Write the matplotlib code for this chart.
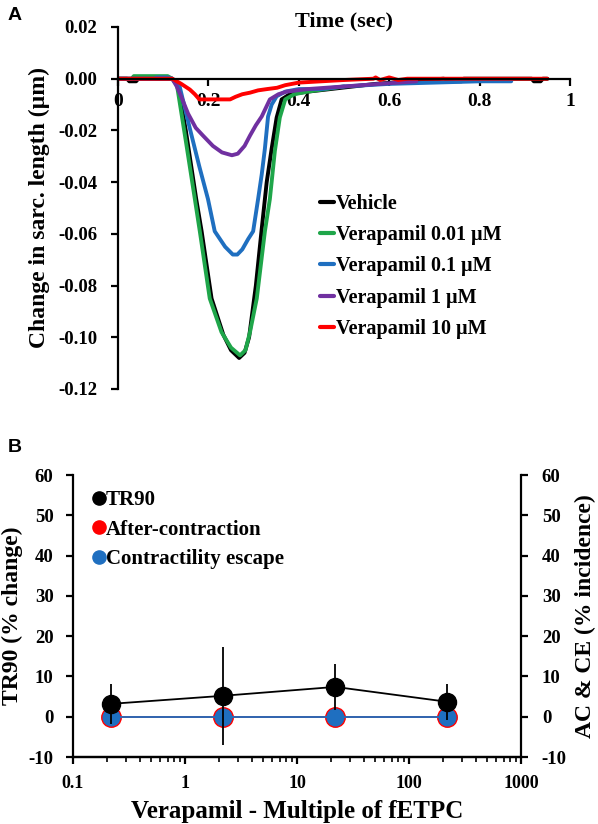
import matplotlib
matplotlib.use("Agg")
import matplotlib.pyplot as plt
from matplotlib.lines import Line2D
from matplotlib.ticker import LogLocator, NullFormatter

SERIF = ["Liberation Serif", "DejaVu Serif"]
plt.rcParams["font.family"] = SERIF
plt.rcParams["font.weight"] = "bold"

# ---------------- Panel A data ----------------
veh_t = [0.0, 0.02, 0.025, 0.04, 0.045, 0.10, 0.12, 0.133, 0.15, 0.173, 0.185, 0.207, 0.233, 0.25, 0.268,
         0.28, 0.29, 0.305, 0.318, 0.329, 0.340, 0.351, 0.362, 0.38, 0.42, 0.47, 0.52, 0.57, 0.65, 0.72,
         0.735, 0.74, 0.76, 0.765, 0.80, 0.915, 0.92, 0.935, 0.94, 0.95]
veh_y = [0, 0, -0.001, -0.001, 0, 0, 0, -0.003, -0.020, -0.0465, -0.059, -0.085, -0.099, -0.105, -0.108,
         -0.106, -0.100, -0.080, -0.058, -0.040, -0.027, -0.015, -0.008, -0.006, -0.005, -0.004, -0.003,
         -0.002, -0.001, 0, -0.0005, -0.001, -0.001, 0, 0, 0, -0.001, -0.001, 0, 0]

v001_t = [0.0, 0.03, 0.035, 0.11, 0.12, 0.13, 0.15, 0.170, 0.181, 0.203, 0.229, 0.25, 0.270, 0.282, 0.292,
          0.307, 0.325, 0.336, 0.347, 0.358, 0.37, 0.39, 0.42, 0.46, 0.50]
v001_y = [0, 0, 0.001, 0.001, 0, -0.002, -0.024, -0.0465, -0.059, -0.085, -0.098, -0.104, -0.107, -0.105,
          -0.098, -0.085, -0.059, -0.0465, -0.028, -0.015, -0.008, -0.006, -0.005, -0.004, -0.003]

v01_t = [0.0, 0.08, 0.085, 0.11, 0.12, 0.135, 0.16, 0.18, 0.199, 0.214, 0.237, 0.254, 0.264, 0.275, 0.288,
         0.299, 0.310, 0.318, 0.325, 0.332, 0.34, 0.351, 0.37, 0.40, 0.45, 0.50, 0.60, 0.70, 0.80, 0.87]
v01_y = [0, 0, 0.0005, 0.0005, 0, -0.002, -0.020, -0.034, -0.0465, -0.059, -0.065, -0.068, -0.068, -0.066,
         -0.062, -0.059, -0.0465, -0.037, -0.027, -0.0146, -0.010, -0.0068, -0.005, -0.004, -0.004, -0.003,
         -0.002, -0.0015, -0.001, -0.001]

v1_t = [0.0, 0.12, 0.13, 0.14, 0.155, 0.172, 0.188, 0.21, 0.23, 0.252, 0.265, 0.28, 0.292, 0.305, 0.318,
        0.336, 0.355, 0.373, 0.42, 0.50, 0.58, 0.66]
v1_y = [0, 0, -0.003, -0.007, -0.0135, -0.019, -0.022, -0.026, -0.0285, -0.0296, -0.029, -0.026, -0.022,
        -0.018, -0.0146, -0.008, -0.006, -0.005, -0.004, -0.003, -0.002, -0.001]

v10_t = [0.0, 0.12, 0.14, 0.159, 0.17, 0.18, 0.20, 0.248, 0.26, 0.275, 0.292, 0.31, 0.33, 0.352, 0.37,
         0.40, 0.45, 0.50, 0.565, 0.57, 0.58, 0.60, 0.62, 0.64, 0.70, 0.95]
v10_y = [0, 0, -0.002, -0.0042, -0.006, -0.008, -0.008, -0.008, -0.007, -0.006, -0.0054, -0.0045, -0.004,
         -0.0035, -0.0025, -0.0015, -0.001, -0.0005, 0, 0.0005, -0.0005, 0.0005, -0.0005, 0, 0, 0]

series_A = [
    ("Vehicle", veh_t, veh_y, "#000000"),
    ("Verapamil 0.01 \u00b5M", v001_t, v001_y, "#1fa64a"),
    ("Verapamil 0.1 \u00b5M", v01_t, v01_y, "#1f6fc0"),
    ("Verapamil 1 \u00b5M", v1_t, v1_y, "#7030a0"),
    ("Verapamil 10 \u00b5M", v10_t, v10_y, "#ff0000"),
]
xticks_A = [0, 0.2, 0.4, 0.6, 0.8, 1]
xtick_labels_A = ["0", "0.2", "0.4", "0.6", "0.8", "1"]
yticks_A = [0.02, 0.00, -0.02, -0.04, -0.06, -0.08, -0.10, -0.12]
ytick_labels_A = ["0.02", "0.00", "-0.02", "-0.04", "-0.06", "-0.08", "-0.10", "-0.12"]

# ---------------- Panel B data ----------------
multiples = [0.22, 2.2, 22, 220]
tr90 = [3.2, 5.2, 7.4, 3.7]
tr90_err = [5.0, 12.1, 5.8, 4.4]
after_contraction = [0, 0, 0, 0]
contractility_escape = [0, 0, 0, 0]
xticks_B = [0.1, 1, 10, 100, 1000]
xtick_labels_B = ["0.1", "1", "10", "100", "1000"]
yticks_B = [-10, 0, 10, 20, 30, 40, 50, 60]

W, H = 598, 824
fig = plt.figure(figsize=(W / 100, H / 100), dpi=100)

# ---------------- Panel A ----------------
axA = fig.add_axes([118 / W, 1 - 389 / H, (570 - 118) / W, (389 - 27) / H])
for name, t, y, c in series_A:
    axA.plot(t, y, color=c, lw=2.8, label=name, solid_joinstyle="round", solid_capstyle="round")
axA.set_xlim(0, 1)
axA.set_ylim(-0.12, 0.02)
axA.spines["top"].set_visible(False)
axA.spines["right"].set_visible(False)
axA.spines["bottom"].set_position(("data", 0))
for s in ["left", "bottom"]:
    axA.spines[s].set_linewidth(1.6)
axA.set_xticks(xticks_A)
axA.set_xticklabels(xtick_labels_A, fontsize=14, fontweight="bold")
axA.set_yticks(yticks_A)
axA.set_yticklabels(ytick_labels_A, fontsize=13.5, fontweight="bold")
axA.tick_params(axis="both", direction="out", length=5, width=1.6)
axA.tick_params(axis="x", pad=5)
axA.tick_params(axis="y", pad=10)
axA.set_ylabel("Change in sarc. length (\u00b5m)", fontsize=17, fontweight="bold", labelpad=6)
fig.text((118 + 570) / 2 / W, 1 - 21 / H, "Time (sec)", ha="center", va="center",
         fontsize=16, fontweight="bold")
legA = axA.legend(loc="upper left", bbox_to_anchor=(0.43, 0.56), frameon=False,
                  handlelength=0.65, handletextpad=0.1, labelspacing=0.55, borderaxespad=0,
                  prop={"family": SERIF, "weight": "bold", "size": 14.5})
for ln in legA.get_lines():
    ln.set_linewidth(3)

fig.text(8 / W, 1 - 16 / H, "A", ha="left", va="center", fontsize=14, fontweight="bold",
         family=["Liberation Sans", "DejaVu Sans"])

# ---------------- Panel B ----------------
axB = fig.add_axes([73 / W, 1 - 757 / H, (521 - 73) / W, (757 - 475) / H])
axB.set_xscale("log")
axB.set_xlim(0.1, 1000)
axB.set_ylim(-10, 60)
axB.errorbar(multiples, tr90, yerr=tr90_err, fmt="none", ecolor="black", elinewidth=1.3, capsize=0, zorder=2)
axB.plot(multiples, tr90, color="black", lw=1.3, marker="o", ms=13, mfc="black", mec="black", zorder=3)
axB2 = axB.twinx()
axB2.set_ylim(-10, 60)
axB2.plot(multiples, after_contraction, color="#ff0000", lw=1.3, marker="o", ms=14, mfc="#ff0000",
          mec="#ff0000", zorder=3)
axB2.plot(multiples, contractility_escape, color="#1f6fc0", lw=1.3, marker="o", ms=12, mfc="#1f6fc0",
          mec="#1f6fc0", zorder=4)
axB.set_zorder(axB2.get_zorder() + 1)
axB.patch.set_visible(False)

for ax in (axB, axB2):
    ax.spines["top"].set_visible(False)
    for s in ["left", "right", "bottom"]:
        ax.spines[s].set_linewidth(1.6)
axB.spines["right"].set_visible(False)
axB2.spines["left"].set_visible(False)

axB.set_xticks(xticks_B)
axB.set_xticklabels(xtick_labels_B, fontsize=13, fontweight="bold")
axB.xaxis.set_minor_locator(LogLocator(base=10, subs=range(2, 10)))
axB.xaxis.set_minor_formatter(NullFormatter())
axB.set_yticks(yticks_B)
axB.set_yticklabels([str(v) for v in yticks_B], fontsize=13.5, fontweight="bold")
axB2.set_yticks(yticks_B)
axB2.set_yticklabels([str(v) for v in yticks_B], fontsize=13.5, fontweight="bold")
axB.tick_params(axis="both", which="major", direction="out", length=5, width=1.6)
axB.tick_params(axis="x", which="minor", direction="out", length=3.5, width=1.2)
axB.tick_params(axis="x", pad=8)
axB.tick_params(axis="y", pad=9)
axB2.tick_params(axis="y", direction="out", length=5, width=1.6, pad=10)

axB.set_xlabel("Verapamil - Multiple of fETPC", fontsize=18, fontweight="bold", labelpad=6)
axB.set_ylabel("TR90 (% change)", fontsize=17, fontweight="bold", labelpad=4)
axB2.set_ylabel("AC & CE (% incidence)", fontsize=17, fontweight="bold", labelpad=6)

handlesB = [
    Line2D([], [], ls="none", marker="o", ms=9.5, mfc="black", mec="black"),
    Line2D([], [], ls="none", marker="o", ms=9.5, mfc="#ff0000", mec="#ff0000"),
    Line2D([], [], ls="none", marker="o", ms=9.5, mfc="#1f6fc0", mec="#1f6fc0"),
]
axB.legend(handlesB, ["TR90", "After-contraction", "Contractility escape"], loc="upper left",
           bbox_to_anchor=(0.025, 0.975), frameon=False, handlelength=0.6, handletextpad=0.05,
           labelspacing=0.45, borderaxespad=0, prop={"family": SERIF, "weight": "bold", "size": 15})

fig.text(8 / W, 1 - 447 / H, "B", ha="left", va="center", fontsize=14, fontweight="bold",
         family=["Liberation Sans", "DejaVu Sans"])

fig.savefig("out.png", dpi=100)
